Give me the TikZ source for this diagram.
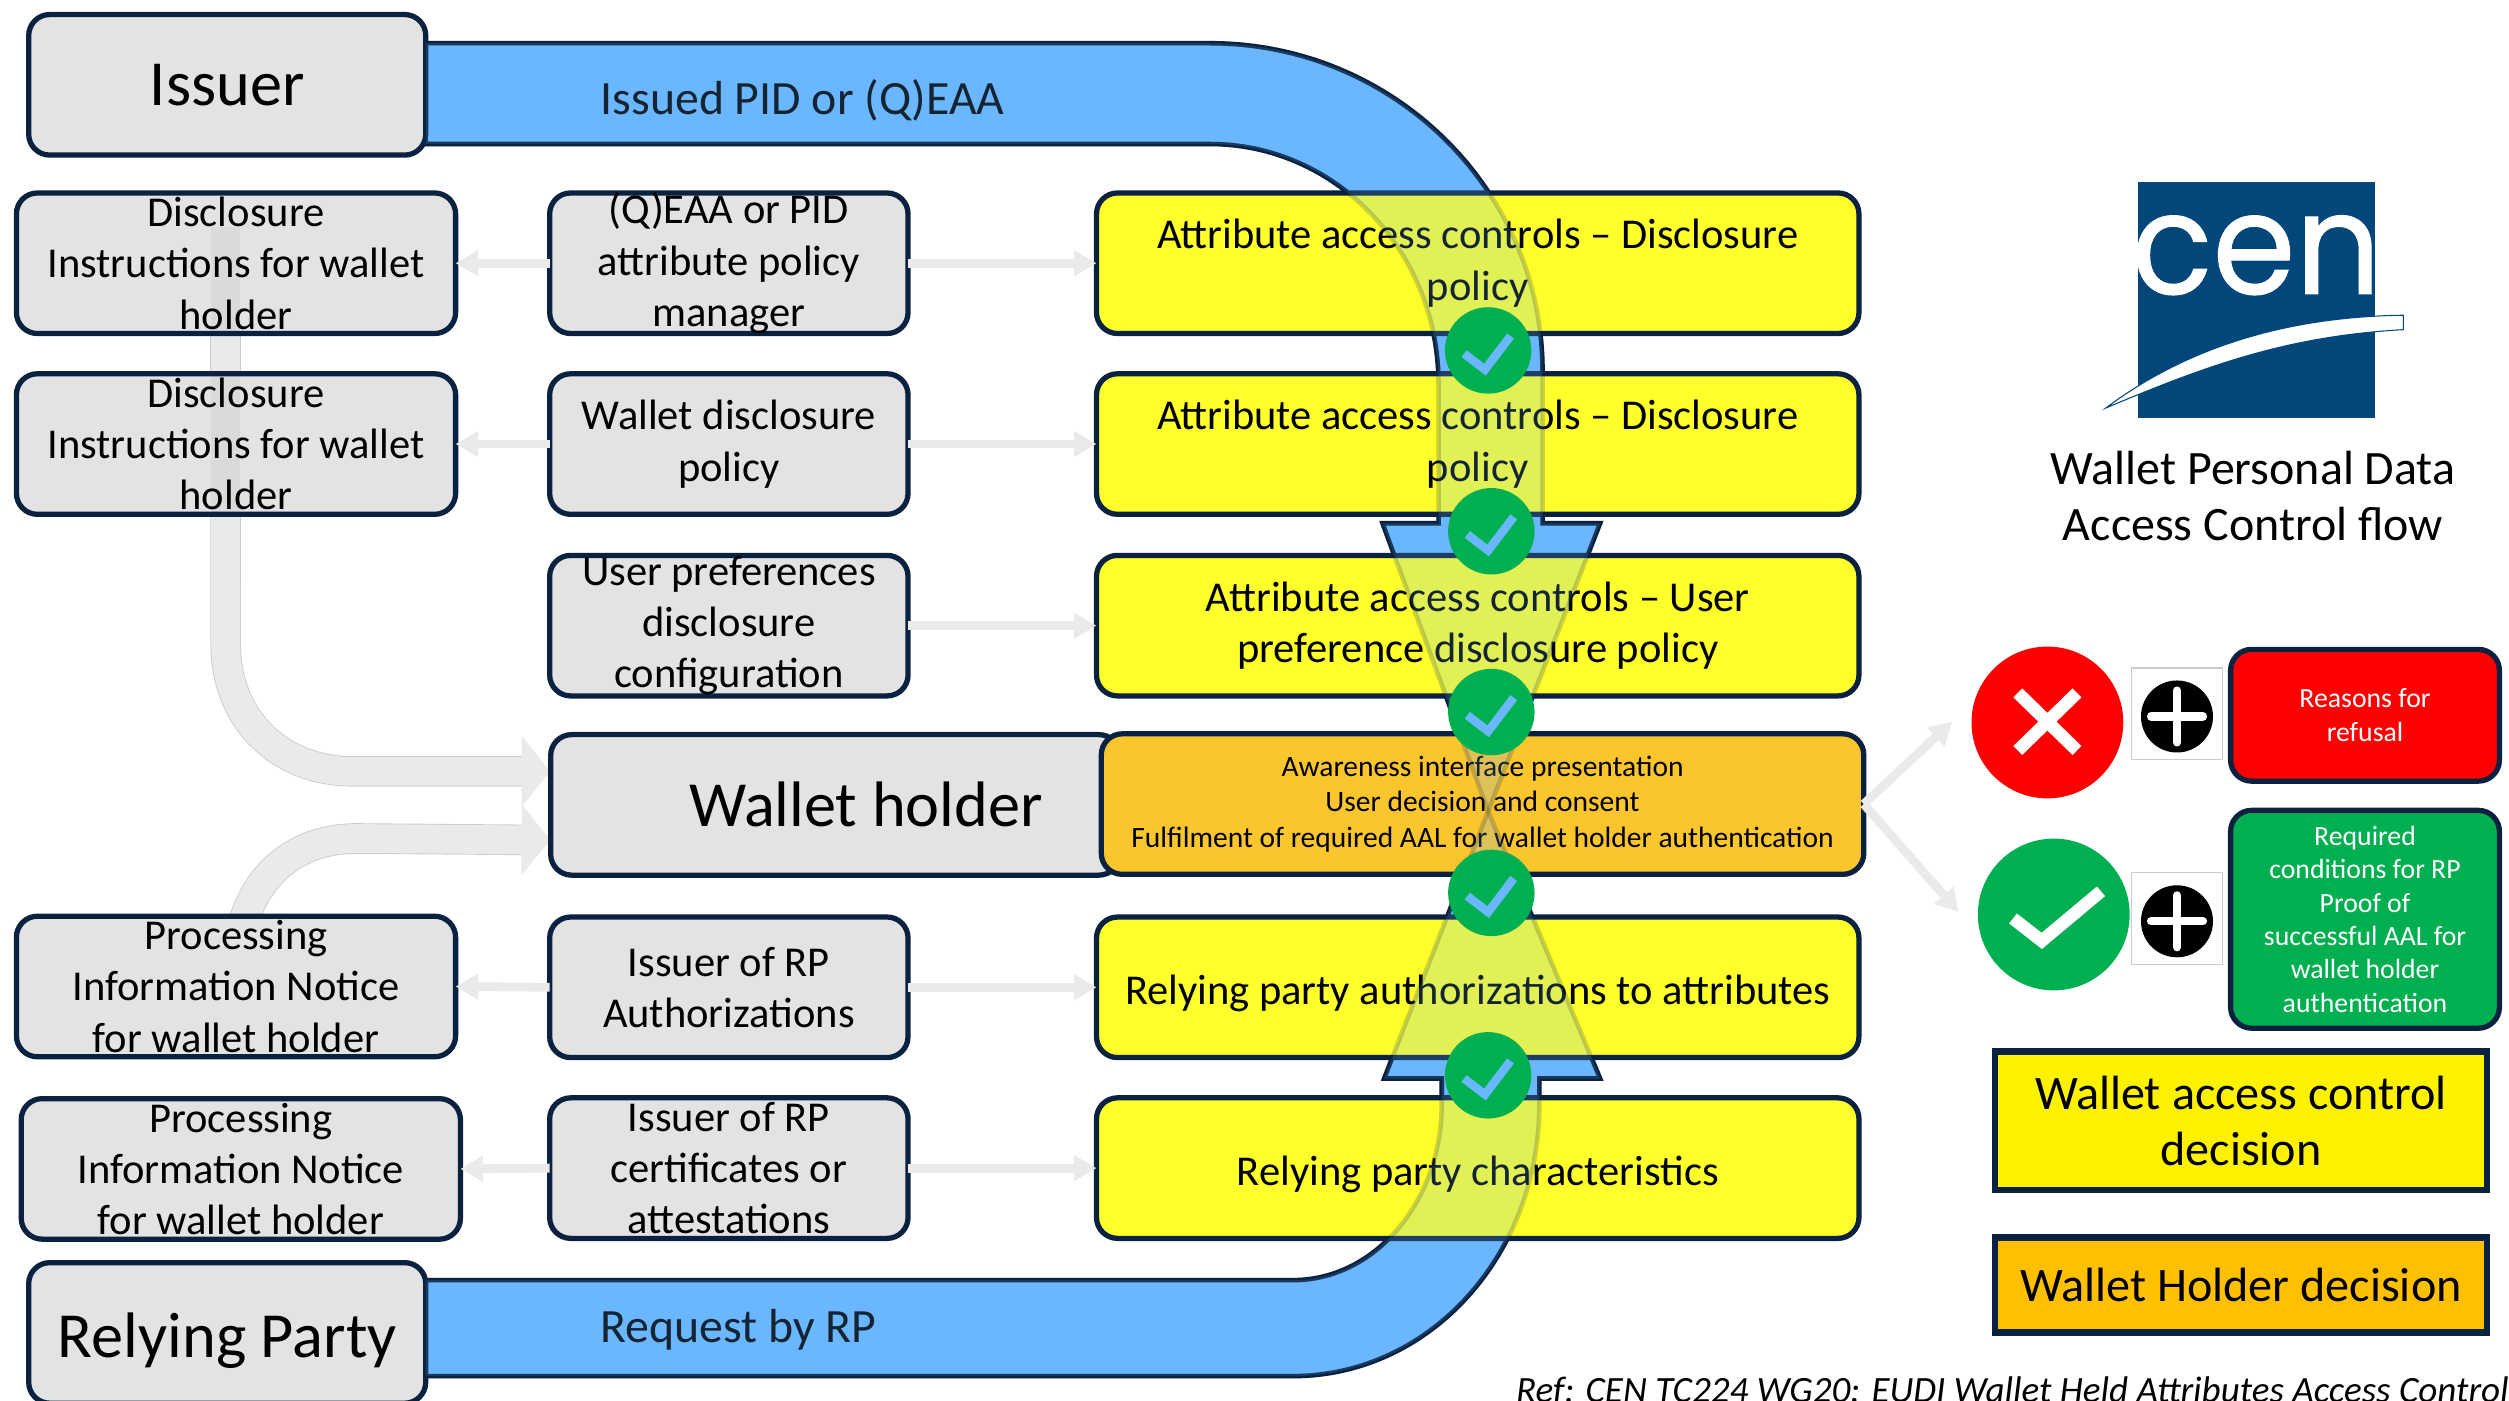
\documentclass[tikz,border=0pt]{standalone}
\usepackage{fontspec}
\setmainfont{Carlito}
\newfontfamily\logofont[FakeBold=0.7]{Poppins}
\usepackage{tikz}
\usetikzlibrary{arrows.meta,backgrounds}

\definecolor{navy}{HTML}{0A2240}
\definecolor{bandblue}{HTML}{6AB7FF}
\definecolor{boxgray}{HTML}{E3E3E3}
\definecolor{arrowgray}{HTML}{EAEAEA}
\definecolor{boxyellow}{HTML}{FFFF2B}
\definecolor{boxorange}{HTML}{FBC52D}
\definecolor{okgreen}{HTML}{00B050}
\definecolor{cenblue}{HTML}{03467A}

\newcommand{\issuerband}{(266,27) -- (756,27) .. controls (871,27) and (964,119) .. (964,232) -- (964,327) -- (1000,327) -- (930,507) -- (864,327) -- (899,327) -- (899,240) .. controls (899,157) and (835,90) .. (756,90) -- (266,90) -- cycle}
\newcommand{\rpband}{(266,800) -- (808,800) .. controls (860,800) and (901,750) .. (901,690) -- (901,674) -- (865,674) -- (930,507) -- (1000,674) -- (962,674) -- (962,690) .. controls (962,785) and (893,860) .. (808,860) -- (266,860) -- cycle}

\tikzset{
  box/.style = {draw = navy, line width = 1.5pt, rounded corners = 0.21cm, inner xsep = 0pt, inner ysep = -7pt, outer sep = 0pt, align = center, font = \fontsize{12.1}{14.6}\selectfont, execute at begin node = {\rule{0pt}{12pt}}},
  graybox/.style = {box, fill = boxgray},
  policy/.style = {graybox, minimum width = 102pt, minimum height = 40pt},
  notice/.style = {graybox, minimum width = 125pt, minimum height = 40pt},
  control/.style = {box, fill = boxyellow, minimum width = 217pt, minimum height = 40pt},
  party/.style = {graybox, minimum width = 113pt, minimum height = 40pt, font = \fontsize{18.3}{22}\selectfont, execute at begin node = {}},
  outcome/.style = {box, text = white, minimum width = 76.5pt, font = \fontsize{7.9}{9.5}\selectfont, execute at begin node = {}},
  legend/.style = {draw = navy, line width = 1.8pt, minimum width = 140pt, outer sep = 0pt, align = center, font = \fontsize{13.7}{16}\selectfont},
  band/.style = {draw = navy, line width = 1.3pt, fill = bandblue},
  bandtint/.style = {band, fill opacity = 0.2, draw opacity = 0.2},
  thinarrow/.style = {draw = arrowgray, line width = 2.5pt, -{Triangle[length = 6.4pt, width = 7pt]}},
  bigarrow/.style = {draw = arrowgray, line width = 8.2pt, -{Triangle[length = 8.2pt, width = 19.6pt]}, preaction = {draw = black!20, line width = 8.7pt, arrows = -, shorten > = 8pt}},
  arrowtint/.style = {fill = black, fill opacity = 0.04},
  tick/.style = {circle, fill = okgreen, minimum size = 24.6pt, inner sep = 0pt},
  bigdot/.style = {circle, minimum size = 43.2pt, inner sep = 0pt},
  bigmark/.style = {white, line width = 3.6pt},
  plusframe/.style = {draw = black!20, line width = 0.3pt, minimum width = 26pt, minimum height = 26pt, inner sep = 0pt},
  plusdot/.style = {circle, fill = black, minimum size = 20.5pt, inner sep = 0pt},
  bandlabel/.style = {anchor = west, inner sep = 0pt, font = \fontsize{13.6}{16}\selectfont},
}

\begin{document}
\begin{tikzpicture}[x = 0.016cm, y = -0.016cm]
\useasboundingbox (0,0) rectangle (1568,875);

% bands under the boxes
\draw[band] \issuerband;
\draw[band] \rpband;

% left column
\node[notice] (notice1) at (147.5,164.5) {Disclosure\\Instructions for wallet\\holder};
\node[notice] (notice2) at (147.5,277.5) {Disclosure\\Instructions for wallet\\holder};
\node[notice] (notice3) at (147.5,616.5) {Processing\\Information Notice\\for wallet holder};
\node[notice] (notice4) at (150.5,730.5) {Processing\\Information Notice\\for wallet holder};

% middle column
\node[policy] (policy1) at (455.5,164.5) {(Q)EAA or PID\\attribute policy\\manager};
\node[policy] (policy2) at (455.5,277.5) {Wallet disclosure\\policy};
\node[policy] (policy3) at (455.5,391) {User preferences\\disclosure\\configuration};
\node[policy] (policy4) at (455.5,617) {Issuer of RP\\Authorizations};
\node[policy] (policy5) at (455.5,730) {Issuer of RP\\certificates or\\attestations};
\node[graybox, minimum width = 162pt, minimum height = 40pt, font = \fontsize{18.3}{22}\selectfont, execute at begin node = {}] (holder) at (522,503) {\hspace*{17.4pt}Wallet holder};

% big grey arrows to the wallet holder
\coordinate (holderA) at (344,482);
\coordinate (holderB) at (344,525);
\begin{scope}[on background layer]
\draw[bigarrow] ([xshift = -3pt]notice1.south) -- (141,402) .. controls (141,450) and (175,482) .. (220,482) -- (holderA);
\draw[bigarrow] (notice3.center) .. controls (145,560) and (175,524) .. (223,524) -- (holderB);
\end{scope}
\fill[arrowtint] (132,142) rectangle (150,207);
\fill[arrowtint] (132,235) rectangle (150,320);

% controls
\node[control] (control1) at (923.5,164.5) {Attribute access controls -- Disclosure\\policy};
\node[control] (control2) at (923.5,277.5) {Attribute access controls -- Disclosure\\policy};
\node[control] (control3) at (923.5,391) {Attribute access controls -- User\\preference disclosure policy};
\node[box, fill = boxorange, minimum width = 217pt, minimum height = 40pt, font = \fontsize{8.4}{10.1}\selectfont] (decision) at (926.5,502.5) {Awareness interface presentation\\User decision and consent\\Fulfilment of required AAL for wallet holder authentication};
\node[control] (control4) at (923.5,617) {Relying party authorizations to attributes};
\node[control] (control5) at (923.5,730) {Relying party characteristics};

% parties
\node[party] (issuer) at (142,53) {Issuer};
\node[party, execute at begin node = {\rule{0pt}{17pt}}] (rp) at (142,833) {Relying Party};
\node[bandlabel] (issued) at (375,63) {Issued PID or (Q)EAA};
\node[bandlabel] (request) at (375,831) {Request by RP};

% thin arrows
\foreach \i/\j in {1/1, 2/2, 4/3, 5/4} {
  \draw[thinarrow] (policy\i.west) -- (notice\j.east);
}
\foreach \i/\j in {1/1, 2/2, 3/3, 4/4, 5/5} {
  \draw[thinarrow] (policy\i.east) -- (control\j.west);
}

% see-through part of the bands
\draw[bandtint] \issuerband;
\draw[bandtint] \rpband;

% ticks on the flow
\foreach \name/\x/\y in {tick1/930/219, tick2/932/332, tick3/932/445, tick4/932/558, tick5/930/672} {
  \node[tick] (\name) at (\x,\y) {};
  \draw[bandblue, line width = 2.4pt] ([shift = {(-15,2)}]\name.center) -- ([shift = {(-2,12)}]\name.center) -- ([shift = {(14,-9)}]\name.center);
}

% logo
\fill[cenblue] (1336,113.5) rectangle (1484,261);
\node[text = white, inner sep = 0pt, xscale = 0.95, font = \fontsize{40}{40}\logofont] (cen) at (1410,159.5) {cen};
\filldraw[fill = white, draw = cenblue, line width = 0.3pt] (1316,255) .. controls (1360,222) and (1420,198) .. (1502,197) -- (1502,206) .. controls (1430,210) and (1380,228) .. (1316,255) -- cycle;
\node[align = center, font = \fontsize{13.65}{16}\selectfont] (title) at (1408,310) {Wallet Personal Data\\Access Control flow};

% outcomes
\coordinate (refuse) at (1220,451);
\coordinate (accept) at (1224,570);
\draw[thinarrow] (decision.east) -- (refuse);
\draw[thinarrow] (decision.east) -- (accept);

\node[bigdot, fill = red] (nodot) at (1279.5,451.5) {};
\draw[bigmark] (1261,433) -- (1298,469);
\draw[bigmark] (1298,433) -- (1261,469);
\node[bigdot, fill = okgreen] (okdot) at (1283.5,571.5) {};
\draw[bigmark] (1258,574) -- (1276,588) -- (1313,557);

\foreach \name/\y in {plusA/446, plusB/574} {
  \node[plusframe] (\name) at (1360.5,\y) {};
  \node[plusdot] (\name dot) at ([yshift = -0.8pt]\name.center) {};
  \draw[white, line width = 2.3pt, line cap = round] ([xshift = -7.4pt]\name dot.center) -- ([xshift = 7.4pt]\name dot.center);
  \draw[white, line width = 2.3pt, line cap = round] ([yshift = -7.4pt]\name dot.center) -- ([yshift = 7.4pt]\name dot.center);
}

\node[outcome, fill = red, minimum height = 37.5pt] (refusal) at (1478,447) {Reasons for\\refusal};
\node[outcome, fill = okgreen, minimum height = 62pt] (conditions) at (1478,574.5) {Required\\conditions for RP\\Proof of\\successful AAL for\\wallet holder\\authentication};

% legend
\node[legend, fill = yellow, minimum height = 39.5pt] (legendA) at (1400.5,700.5) {Wallet access control\\decision};
\node[legend, fill = orange!50!yellow!100!red, fill = {rgb,255:red,255;green,192;blue,0}, minimum height = 27pt] (legendB) at (1400.5,803) {Wallet Holder decision};

\node[anchor = west, inner sep = 0pt, font = \fontsize{10.55}{12}\itshape] (ref) at (947,870) {Ref: CEN TC224 WG20: EUDI Wallet Held Attributes Access Control};
\end{tikzpicture}
\end{document}
